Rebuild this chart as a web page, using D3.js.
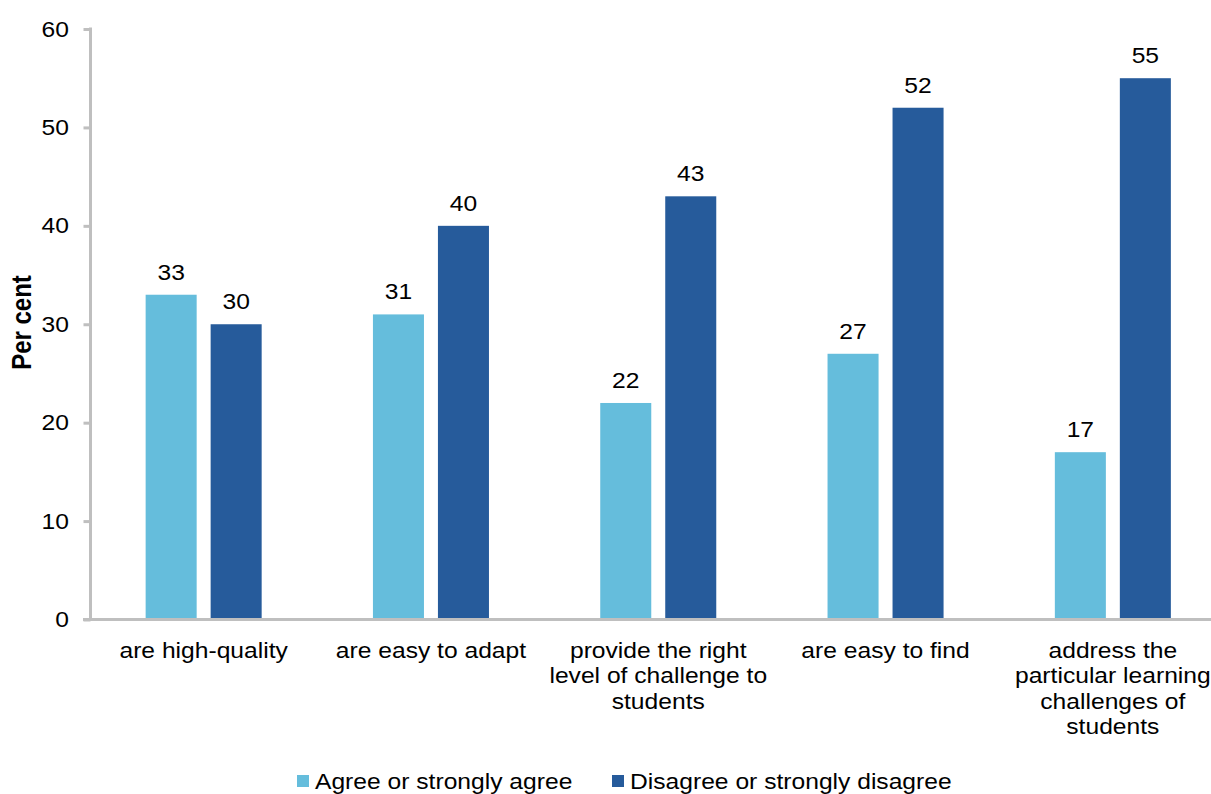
<!DOCTYPE html>
<html>
<head>
<meta charset="utf-8">
<script src="https://cdn.jsdelivr.net/npm/d3@7"></script>
<style>
  html, body { margin: 0; padding: 0; background: #fff; }
  svg { display: block; }
  text { font-family: "Liberation Sans", Arial, sans-serif; fill: #000; }
</style>
</head>
<body>
<svg id="chart" width="1211" height="794"></svg>
<script>
// Survey responses: share of teachers agreeing / disagreeing that resources ...
const categories = [
  "are high-quality",
  "are easy to adapt",
  "provide the right level of challenge to students",
  "are easy to find",
  "address the particular learning challenges of students"
];
// Wrapped lines for the category labels under the axis
const categoryLines = [
  ["are high-quality"],
  ["are easy to adapt"],
  ["provide the right", "level of challenge to", "students"],
  ["are easy to find"],
  ["address the", "particular learning", "challenges of", "students"]
];
const seriesNames = ["Agree or strongly agree", "Disagree or strongly disagree"];
const agreeValues = [33, 31, 22, 27, 17];
const disagreeValues = [30, 40, 43, 52, 55];
const yTicks = [0, 10, 20, 30, 40, 50, 60];
const yTitle = "Per cent";

const colors = { [seriesNames[0]]: "#65BDDC", [seriesNames[1]]: "#265B9B" };
const axisGrey = "#BFBFBF";
const stretch = 1.12;  // glyphs are drawn slightly wide

const svg = d3.select("#chart");

const x0 = d3.scaleBand().domain(categories).range([90, 1226.5]).paddingInner(0).paddingOuter(0);
const x1 = d3.scaleBand().domain(seriesNames).range([0, x0.bandwidth()]).paddingInner(0.215).paddingOuter(0.856);
const y = d3.scaleLinear().domain([0, 60]).range([619.5, 29]);

const rows = categories.map((c, i) => ({
  category: c,
  values: [
    { series: seriesNames[0], value: agreeValues[i] },
    { series: seriesNames[1], value: disagreeValues[i] }
  ]
}));

// helper: text at a point, widened horizontally
function label(parent, x, yy, str, opts = {}) {
  const t = parent.append("text")
    .attr("transform", `translate(${x},${yy}) scale(${stretch},1)` + (opts.rotate ? ` rotate(${opts.rotate})` : ""))
    .attr("text-anchor", opts.anchor || "middle")
    .style("font-size", (opts.size || 22) + "px")
    .text(str);
  if (opts.bold) t.style("font-weight", "bold");
  return t;
}

// bars
const groups = svg.append("g").selectAll("g").data(rows).join("g")
  .attr("transform", d => `translate(${x0(d.category)},0)`);

groups.selectAll("rect").data(d => d.values).join("rect")
  .attr("x", d => x1(d.series))
  .attr("width", x1.bandwidth())
  .attr("y", d => y(d.value))
  .attr("height", d => y(0) - y(d.value))
  .attr("fill", d => colors[d.series]);

// value labels
const valueLayer = svg.append("g");
rows.forEach(r => {
  r.values.forEach(v => {
    const cx = x0(r.category) + x1(v.series) + x1.bandwidth() / 2;
    label(valueLayer, cx, y(v.value) - 15, String(v.value));
  });
});

// y axis
const yAxis = d3.axisLeft(y).tickValues(yTicks).tickSize(7).tickPadding(14).tickFormat(d3.format("d"));
const yg = svg.append("g").attr("transform", "translate(90.5,0)").call(yAxis);
yg.select(".domain").remove();
yg.selectAll(".tick line").attr("stroke", axisGrey).attr("stroke-width", 3);
yg.selectAll(".tick text").remove();
yTicks.forEach(t => label(svg, 69, y(t) + 7.5, String(t), { anchor: "end" }));
svg.append("line")
  .attr("x1", 90.5).attr("x2", 90.5)
  .attr("y1", y(60) - 1.5).attr("y2", y(0) + 1.5)
  .attr("stroke", axisGrey).attr("stroke-width", 3);

// x axis line
svg.append("line")
  .attr("x1", 83).attr("x2", 1211)
  .attr("y1", y(0)).attr("y2", y(0))
  .attr("stroke", axisGrey).attr("stroke-width", 3);

// category labels
const catLayer = svg.append("g");
categories.forEach((c, i) => {
  const cx = x0(c) + x0.bandwidth() / 2;
  categoryLines[i].forEach((line, j) => {
    label(catLayer, cx, 658 + j * 25.3, line);
  });
});

// y axis title
label(svg, 31, 322.5, yTitle, { rotate: -90, size: 24, bold: true });

// legend
const legendX = [297, 612];
seriesNames.forEach((s, i) => {
  svg.append("rect")
    .attr("x", legendX[i]).attr("y", 775)
    .attr("width", 12).attr("height", 12)
    .attr("fill", colors[s]);
  label(svg, legendX[i] + 18, 789, s, { anchor: "start" });
});
</script>
</body>
</html>
